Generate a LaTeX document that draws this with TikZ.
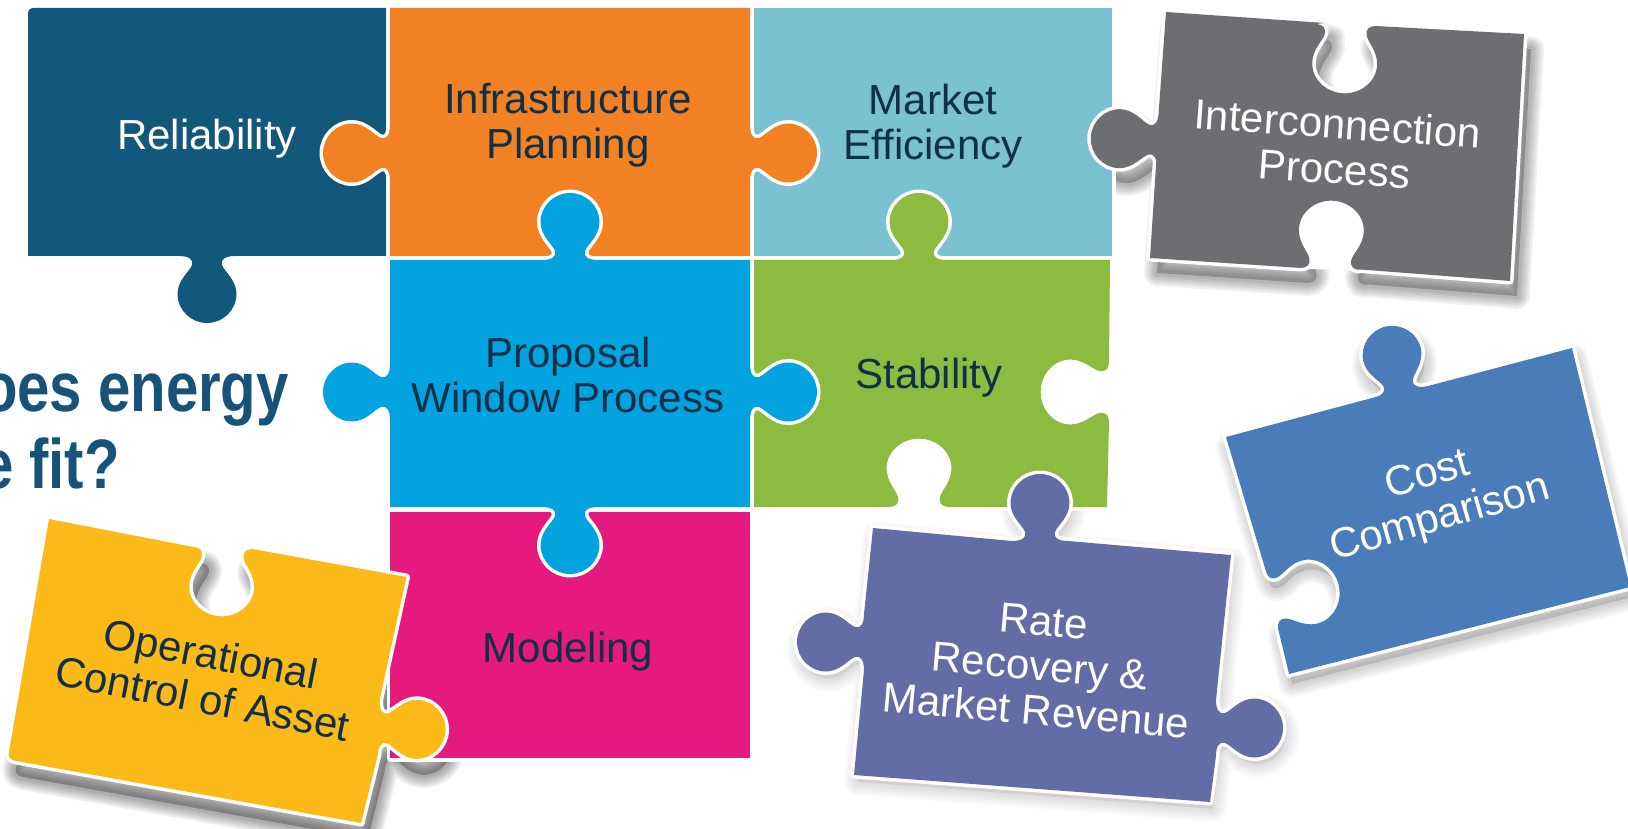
\documentclass[tikz,border=0pt]{standalone}
\usepackage{fontspec}
\setmainfont{Liberation Sans}
\definecolor{cRel}{HTML}{13577A}
\definecolor{cOra}{HTML}{F28124}
\definecolor{cTea}{HTML}{7AC2D1}
\definecolor{cBlu}{HTML}{03A3DF}
\definecolor{cGre}{HTML}{8CBB3F}
\definecolor{cMag}{HTML}{E6197F}
\definecolor{cYel}{HTML}{FBBA18}
\definecolor{cGra}{HTML}{6D6E71}
\definecolor{cCos}{HTML}{497CB9}
\definecolor{cPur}{HTML}{626DA6}
\definecolor{cTxt}{HTML}{0F3048}
\definecolor{cTit}{HTML}{17527A}
% outward tab: base centre (x,y), pointing direction rotate=angle (0 = up)
\newcommand\tabshape{-- (-28,0) .. controls (-19,0) and (-13,-3) .. (-15,-9)
  .. controls (-17,-15) and (-29.5,-24) .. (-29.5,-38)
  .. controls (-29.5,-54) and (-16,-67) .. (0,-67)
  .. controls (16,-67) and (29.5,-54) .. (29.5,-38)
  .. controls (29.5,-24) and (17,-15) .. (15,-9)
  .. controls (13,-3) and (19,0) .. (28,0)}
\newcommand\slotshape{-- (27,0) .. controls (21,0) and (18,-4) .. (19,-9)
  .. controls (20,-16) and (29.5,-24) .. (29.5,-38)
  .. controls (29.5,-54) and (16,-67) .. (0,-67)
  .. controls (-16,-67) and (-29.5,-54) .. (-29.5,-38)
  .. controls (-29.5,-24) and (-20,-16) .. (-19,-9)
  .. controls (-18,-4) and (-21,0) .. (-27,0)}
\newcommand\tabo[3]{{[shift={(#1,#2)},rotate=#3] \tabshape}}
\newcommand\tabi[3]{{[shift={(#1,#2)},rotate=#3,xscale=1.1,yscale=1.02] \slotshape}}
\newcommand\piece[2]{\draw[white,line width=7,line join=round] #2; \fill[#1] #2;}
\newcommand\softshadow[4]{\begin{scope}[shift={(#1,#2)}]
  \fill[black,opacity=#3] #4;
  \foreach \w in {26,22,18,14,10,6} {\draw[black,opacity=#3/4,line width=\w,line join=round] #4;}
\end{scope}}
\newcommand\pGray{(1166,12) -- (1325,23) \tabi{1346}{25}{178} -- (1524,34) -- (1510,281) -- (1354,269) \tabi{1330}{269}{-2} -- (1150,258) -- (1157.7,140) \tabo{1157.7}{140}{88} -- cycle}
\newcommand\pCost{(1226,437) \tabo{1400}{392}{12} -- (1572,348) -- (1630,587) -- (1289,674) \tabi{1272}{600}{-78} -- cycle}
\newcommand\pPur{(873,528) \tabo{1040}{541}{0} -- (1231,555) \tabo{1216}{728}{-90} -- (1210,802) -- (854,775) \tabo{864}{642}{90} -- cycle}
\newcommand\pYel{(49,519) \tabi{223}{548}{178} -- (406.5,577) \tabo{378.6}{728}{-92} -- (361,823) -- (16,761) .. controls (10,760) and (8,757) .. (9,752) -- cycle}
\tikzset{
  lab/.style={font=\fontsize{42}{45}\selectfont,align=center,text=cTxt,inner sep=0},
  labw/.style={lab,text=white},
  tit/.style={font=\fontsize{70}{75}\selectfont\bfseries,text=cTit,inner sep=0,anchor=base east,xscale=.83,transform shape}
}
\begin{document}
\begin{tikzpicture}[x=1pt,y=-1pt]
\useasboundingbox (0,0) rectangle (1628,829);
\clip (0,0) rectangle (1628,829);
% soft shadows of the four loose pieces
\softshadow{3}{10}{.12}{\pCost}
\softshadow{7}{15}{.22}{\pGray}
\softshadow{3}{7}{.08}{\pPur}
\softshadow{7}{16}{.25}{\pYel}
% the bottom slot of the grey piece stays clean
\fill[white] (1303,269) \tabi{1330}{269}{-2} -- cycle;
% Reliability
\piece{cRel}{(28,14) .. controls (28,10) and (30,8) .. (34,8) -- (386,8) -- (386,256) \tabo{207}{256}{180} -- (28,256) -- cycle}
% Market Efficiency
\piece{cTea}{(754,8) -- (1112,8) -- (1112,256) -- (754,256) -- cycle}
% Infrastructure Planning
\piece{cOra}{(390,8) -- (750,8) \tabo{750}{153}{-90} -- (750,256) -- (390,256) \tabo{390}{153}{90} -- cycle}
% Modeling
\piece{cMag}{(390,512) -- (750,512) -- (750,758) -- (390,758) -- cycle}
% Stability
\piece{cGre}{(754,260) \tabo{919}{260}{0} -- (1110,260) \tabi{1109}{392}{90} -- (1107,507) \tabi{919}{507}{0} -- (754,507) -- cycle}
% Proposal Window Process
\piece{cBlu}{(390,260) \tabo{570}{260}{0} -- (750,260) \tabo{750}{392}{-90} -- (750,507) \tabo{570}{507}{180} -- (390,507) \tabo{390}{392}{90} -- cycle}
% Cost Comparison
\piece{cCos}{\pCost}
% Interconnection Process
\piece{cGra}{\pGray}
% Rate Recovery
\piece{cPur}{\pPur}
% Operational Control
\piece{cYel}{\pYel}
% title fragments
\node[tit] (t1) at (289,411) {oes energy};
\node[tit] (t2) at (120,488) {e fit?};
% labels
\node[labw] (rel) at (207,139) {Reliability};
\node[lab] (inf) at (568,125) {Infrastructure\\Planning};
\node[lab] (mkt) at (933,126) {Market\\Efficiency};
\node[lab] (pro) at (568,375) {Proposal\\Window Process};
\node[lab] (sta) at (929,378) {Stability};
\node[lab] (mod) at (568,652) {Modeling};
\node[labw,rotate=-4] (int) at (1336,146) {Interconnection\\Process};
\node[labw,rotate=16] (cos) at (1434,498) {Cost\\Comparison};
\node[labw,rotate=-5] (rat) at (1040,666) {Rate\\Recovery \&\\Market Revenue};
\node[lab,rotate=-11] (ope) at (207,676) {Operational\\Control of Asset};
\end{tikzpicture}
\end{document}
